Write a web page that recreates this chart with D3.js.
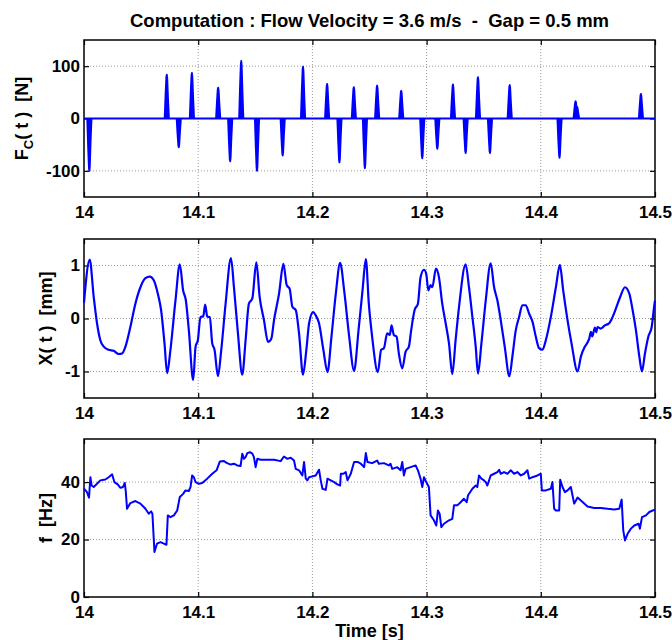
<!DOCTYPE html>
<html>
<head>
<meta charset="utf-8">
<script src="https://cdn.jsdelivr.net/npm/d3@7"></script>
<style>
  body { margin: 0; background: #fff; }
  svg { display: block; font-family: "Liberation Sans", Arial, sans-serif; }
</style>
</head>
<body>
<div id="chart"></div>
<script>
// ---- data ----

const timeTicks = [14, 14.1, 14.2, 14.3, 14.4, 14.5];
const timeTickLabels = ["14", "14.1", "14.2", "14.3", "14.4", "14.5"];

// contact force spikes: time [s] and peak force [N]
const spikeTimes = [14.0047, 14.0725, 14.083, 14.0945, 14.1175, 14.128, 14.1377,
  14.1515, 14.174, 14.1918, 14.2129, 14.2237, 14.2363, 14.246, 14.2567, 14.2778,
  14.2962, 14.3094, 14.3231, 14.3342, 14.345, 14.3555, 14.3728, 14.4164, 14.4305,
  14.4318, 14.4877];
const spikeForces = [-100, 84, -55, 87, 59, -82, 110, -100, -71, 99, 66, -84, 60, -95,
  63, 53, -76, -58, 65, -66, 79, -66, 64, -75, 33, 22, 47];
// shape of one spike: time offset [s], fraction of the peak
const spikeOffsets = [-0.0019, -0.0011, -0.0004, 0, 0.0004, 0.0011, 0.0019];
const spikeShape = [0, 0.55, 0.95, 1, 0.92, 0.45, 0];
const forceTicks = [-100, 0, 100];

// displacement X(t) [mm]
const dispPoints = [
  [14.0, 0.3], [14.0050, 1.11], [14.0085, 0.41], [14.0114, -0.09], [14.0143, -0.41],
  [14.0173, -0.53], [14.0216, -0.59], [14.0260, -0.61], [14.0304, -0.67], [14.0333, -0.66],
  [14.0363, -0.53], [14.0406, -0.16], [14.0450, 0.28], [14.0494, 0.59], [14.0538, 0.76],
  [14.0576, 0.79], [14.0611, 0.72], [14.0646, 0.47], [14.0675, 0.16], [14.0705, -0.47],
  [14.0728, -1.03], [14.0757, -0.59], [14.0801, 0.34], [14.0839, 1.02], [14.0868, 0.53],
  [14.0892, 0.34], [14.0918, -0.22], [14.0956, -1.16], [14.0977, -0.53], [14.0997, -0.41],
  [14.1020, 0.03], [14.1044, 0.04], [14.1061, 0.26], [14.1079, 0.04], [14.1102, 0.02],
  [14.1123, -0.47], [14.1143, -0.59], [14.1173, -1.09], [14.1202, -0.59], [14.1240, 0.28],
  [14.1287, 1.14], [14.1313, 0.59], [14.1348, -0.28], [14.1386, -1.06], [14.1415, -0.41],
  [14.1444, 0.28], [14.1474, 0.38], [14.1509, 1.06], [14.1538, 0.41], [14.1576, -0.03],
  [14.1611, -0.44], [14.1640, -0.38], [14.1664, -0.03], [14.1708, 0.47], [14.1746, 1.03],
  [14.1775, 0.63], [14.1801, 0.56], [14.1825, 0.22], [14.1854, 0.16], [14.1883, -0.28],
  [14.1918, -1.06], [14.1947, -0.59], [14.1971, -0.09], [14.2006, 0.12], [14.2029, 0.06],
  [14.2058, -0.09], [14.2096, -0.59], [14.2132, -1.01], [14.2167, -0.34], [14.2205, 0.47],
  [14.2243, 1.05], [14.2278, 0.53], [14.2322, -0.34], [14.2365, -0.99], [14.2404, -0.22],
  [14.2439, 0.53], [14.2468, 1.12], [14.2494, 0.28], [14.2523, -0.34], [14.2573, -1.01],
  [14.2602, -0.59], [14.2626, -0.56], [14.2655, -0.28], [14.2678, -0.31], [14.2693, -0.13],
  [14.2713, -0.31], [14.2737, -0.34], [14.2757, -0.66], [14.2787, -0.94], [14.2816, -0.63],
  [14.2845, -0.53], [14.2865, -0.22], [14.2895, 0.16], [14.2924, 0.28], [14.2947, 0.78],
  [14.2977, 0.92], [14.2997, 0.84], [14.3015, 0.53], [14.3035, 0.63], [14.3050, 0.59],
  [14.3082, 0.94], [14.3108, 0.78], [14.3137, 0.28], [14.3167, -0.09], [14.3196, -0.47],
  [14.3225, -1.05], [14.3254, -0.41], [14.3284, 0.22], [14.3342, 1.02], [14.3371, 0.59],
  [14.3401, 0.03], [14.3430, -0.53], [14.3450, -1.04], [14.3480, -0.47], [14.3518, 0.34],
  [14.3561, 1.04], [14.3591, 0.59], [14.3620, 0.34], [14.3649, -0.03], [14.3684, -0.53],
  [14.3725, -1.09], [14.3751, -0.72], [14.3781, -0.22], [14.3810, 0.03], [14.3839, 0.25],
  [14.3868, 0.25], [14.3898, 0.09], [14.3927, -0.06], [14.3956, -0.34], [14.3985, -0.56],
  [14.4015, -0.59], [14.4044, -0.41], [14.4088, 0.03], [14.4132, 0.59], [14.4167, 1.01],
  [14.4196, 0.53], [14.4234, -0.03], [14.4269, -0.47], [14.4322, -1.0], [14.4351, -0.72],
  [14.4386, -0.53], [14.4410, -0.45], [14.4424, -0.38], [14.4439, -0.25], [14.4450, -0.34],
  [14.4474, -0.17], [14.4485, -0.26], [14.4497, -0.16], [14.4526, -0.19], [14.4561, -0.13],
  [14.4599, -0.09], [14.4629, 0.03], [14.4658, 0.19], [14.4696, 0.41], [14.4737, 0.59],
  [14.4775, 0.47], [14.4804, 0.16], [14.4833, -0.22], [14.4863, -0.72], [14.4886, -1.0],
  [14.4912, -0.66], [14.4942, -0.34], [14.4971, -0.16], [14.4994, 0.25], [14.5, 0.34]
];
const dispTicks = [-1, 0, 1];

// frequency f [Hz]
const freqPoints = [
  [14.0, 37.7], [14.0026, 36.5], [14.0044, 34.6], [14.0056, 41.7], [14.0067, 38.8],
  [14.0085, 38.3], [14.0114, 39.4], [14.0143, 40.6], [14.0187, 40.9], [14.0216, 41.7],
  [14.0246, 42.7], [14.0266, 40.0], [14.0295, 39.2], [14.0319, 38.0], [14.0342, 38.3],
  [14.0357, 39.7], [14.0365, 37.1], [14.0377, 30.7], [14.0406, 32.7], [14.0450, 33.4],
  [14.0494, 32.5], [14.0538, 30.7], [14.0567, 29.0], [14.0588, 29.8], [14.0599, 29.0],
  [14.0617, 15.7], [14.0640, 18.6], [14.0670, 19.1], [14.0699, 18.6], [14.0722, 18.2],
  [14.0734, 28.4], [14.0757, 27.8], [14.0787, 28.4], [14.0816, 30.1], [14.0839, 34.8],
  [14.0868, 35.9], [14.0889, 37.1], [14.0918, 36.9], [14.0933, 38.3], [14.0947, 42.3],
  [14.0962, 41.7], [14.0977, 40.0], [14.1006, 39.4], [14.1035, 39.7], [14.1079, 41.2],
  [14.1123, 42.9], [14.1161, 44.1], [14.1190, 47.2], [14.1225, 47.3], [14.1254, 46.6],
  [14.1284, 46.1], [14.1313, 46.4], [14.1342, 45.8], [14.1371, 45.6], [14.1386, 49.9],
  [14.1401, 48.1], [14.1415, 48.7], [14.1430, 50.1], [14.1453, 50.4], [14.1474, 49.9],
  [14.1488, 48.7], [14.1503, 45.2], [14.1518, 48.1], [14.1547, 47.8], [14.1605, 47.8],
  [14.1664, 47.8], [14.1722, 47.3], [14.1751, 48.9], [14.1781, 48.1], [14.1810, 48.5],
  [14.1839, 47.5], [14.1854, 44.6], [14.1883, 44.1], [14.1912, 42.3], [14.1927, 47.0],
  [14.1942, 41.2], [14.1956, 40.6], [14.1971, 41.7], [14.2000, 42.0], [14.2029, 42.3],
  [14.2058, 44.3], [14.2073, 40.6], [14.2088, 37.7], [14.2117, 37.3], [14.2132, 41.2],
  [14.2161, 40.6], [14.2190, 40.0], [14.2219, 39.2], [14.2243, 38.8], [14.2249, 42.9],
  [14.2272, 42.9], [14.2292, 43.5], [14.2307, 40.6], [14.2336, 42.9], [14.2365, 47.0],
  [14.2395, 47.0], [14.2424, 46.4], [14.2453, 45.2], [14.2468, 50.1], [14.2482, 47.0],
  [14.2523, 46.6], [14.2567, 47.5], [14.2582, 46.4], [14.2626, 46.6], [14.2670, 45.8],
  [14.2684, 46.4], [14.2699, 44.6], [14.2743, 45.2], [14.2772, 44.1], [14.2787, 47.0],
  [14.2801, 42.3], [14.2816, 44.6], [14.2860, 45.2], [14.2904, 45.8], [14.2924, 44.1],
  [14.2947, 41.2], [14.2962, 38.3], [14.2977, 41.7], [14.2997, 40.0], [14.3020, 38.3],
  [14.3035, 28.4], [14.3064, 26.7], [14.3085, 24.9], [14.3099, 30.1], [14.3114, 29.0],
  [14.3129, 24.3], [14.3152, 25.5], [14.3196, 26.7], [14.3225, 27.2], [14.3240, 31.9],
  [14.3269, 31.9], [14.3298, 33.0], [14.3327, 34.2], [14.3351, 33.0], [14.3363, 35.4],
  [14.3401, 37.7], [14.3430, 38.8], [14.3444, 38.3], [14.3459, 42.3], [14.3480, 41.2],
  [14.3503, 40.6], [14.3518, 40.0], [14.3532, 38.8], [14.3561, 42.3], [14.3591, 42.9],
  [14.3620, 43.5], [14.3635, 44.3], [14.3649, 42.9], [14.3678, 43.5], [14.3708, 42.9],
  [14.3737, 44.1], [14.3766, 42.9], [14.3795, 43.5], [14.3825, 42.3], [14.3854, 42.9],
  [14.3883, 44.1], [14.3898, 41.2], [14.3927, 41.7], [14.3971, 42.3], [14.4000, 42.9],
  [14.4009, 37.1], [14.4044, 37.1], [14.4088, 37.7], [14.4102, 40.0], [14.4117, 30.7],
  [14.4132, 30.1], [14.4161, 30.1], [14.4170, 40.8], [14.4190, 38.3], [14.4211, 36.5],
  [14.4234, 37.1], [14.4263, 38.3], [14.4292, 32.5], [14.4322, 34.6], [14.4351, 33.6],
  [14.4409, 31.5], [14.4468, 31.0], [14.4526, 31.0], [14.4585, 30.7], [14.4643, 30.5],
  [14.4687, 30.7], [14.4708, 33.9], [14.4722, 23.2], [14.4737, 19.7], [14.4760, 22.0],
  [14.4789, 23.8], [14.4819, 24.9], [14.4857, 25.5], [14.4868, 23.8], [14.4886, 27.8],
  [14.4921, 28.4], [14.4950, 29.6], [14.4980, 30.1], [14.5, 30.4]
];
const freqTicks = [0, 20, 40];

const titleText = "Computation : Flow Velocity = 3.6 m/s  -  Gap = 0.5 mm";

// ---- layout ----
const width = 672;
const height = 640;
const left = 84;
const right = 655;
const lineColor = "#0000ff";
const tickFont = 17;
const labelFont = 18;

const svg = d3.select("#chart").append("svg")
  .attr("width", width)
  .attr("height", height);

const x = d3.scaleLinear().domain([14, 14.5]).range([left, right]);

/**
 * drawPanel
 *
 * Draws one MATLAB-style axes box: grid, inward ticks on all sides,
 * tick labels and the rotated y label. Returns the y scale and group.
 */
const drawPanel = function (top, bottom, yDomain, yTicks, labelX, yLabel) {
  const y = d3.scaleLinear().domain(yDomain).range([bottom, top]);
  const g = svg.append("g");

  // dotted grid
  const grid = g.append("g")
    .attr("stroke", "#9a9a9a")
    .attr("stroke-width", 1)
    .attr("stroke-dasharray", "1,2");

  grid.selectAll("line.gx")
    .data(timeTicks.slice(1, -1))
    .join("line")
    .attr("class", "gx")
    .attr("x1", d => x(d)).attr("x2", d => x(d))
    .attr("y1", top).attr("y2", bottom);

  grid.selectAll("line.gy")
    .data(yTicks.filter(d => y(d) > top + 1 && y(d) < bottom - 1))
    .join("line")
    .attr("class", "gy")
    .attr("x1", left).attr("x2", right)
    .attr("y1", d => y(d)).attr("y2", d => y(d));

  // axes through d3, ticks pointing inward
  const bottomAxis = d3.axisBottom(x).tickValues(timeTicks)
    .tickSize(-5).tickPadding(9)
    .tickFormat((d, i) => timeTickLabels[i]);
  const topAxis = d3.axisTop(x).tickValues(timeTicks).tickSize(-5).tickFormat("");
  const leftAxis = d3.axisLeft(y).tickValues(yTicks).tickSize(-5).tickPadding(4)
    .tickFormat(d => String(d));
  const rightAxis = d3.axisRight(y).tickValues(yTicks).tickSize(-5).tickFormat("");

  const styleAxis = sel => {
    sel.select(".domain").remove();
    sel.selectAll(".tick line").attr("stroke", "#000").attr("stroke-width", 1.2);
    sel.selectAll("text")
      .attr("fill", "#000")
      .attr("font-size", tickFont)
      .attr("font-weight", "bold")
      .attr("font-family", "Liberation Sans, Arial, sans-serif");
  };

  g.append("g").attr("transform", `translate(0,${bottom})`).call(bottomAxis).call(styleAxis);
  g.append("g").attr("transform", `translate(0,${top})`).call(topAxis).call(styleAxis);
  g.append("g").attr("transform", `translate(${left},0)`).call(leftAxis).call(styleAxis);
  g.append("g").attr("transform", `translate(${right},0)`).call(rightAxis).call(styleAxis);

  // frame
  g.append("rect")
    .attr("x", left).attr("y", top)
    .attr("width", right - left).attr("height", bottom - top)
    .attr("fill", "none")
    .attr("stroke", "#000")
    .attr("stroke-width", 1.5);

  // y label, sits next to the widest tick label as in MATLAB
  const label = g.append("text")
    .attr("transform", `translate(${labelX},${(top + bottom) / 2}) rotate(-90)`)
    .attr("text-anchor", "middle")
    .attr("font-size", labelFont)
    .attr("font-weight", "bold")
    .attr("fill", "#000")
    .attr("xml:space", "preserve")
    .style("white-space", "pre");
  yLabel(label);

  return { y: y, g: g };
};

const line = y => d3.line().x(d => x(d[0])).y(d => y(d[1]));

// ---- top panel: contact force ----
const p1 = drawPanel(40, 197, [-150, 150], forceTicks, 28, label => {
  label.append("tspan").text("F");
  label.append("tspan").attr("font-size", 13).attr("dy", 5).text("C");
  label.append("tspan").attr("dy", -5).text("( t )  [N]");
});

p1.g.append("path")
  .datum([[14, 0], [14.5, 0]])
  .attr("fill", "none")
  .attr("stroke", lineColor)
  .attr("stroke-width", 2)
  .attr("d", line(p1.y));

p1.g.append("g")
  .selectAll("path")
  .data(spikeTimes.map((t, i) => spikeOffsets.map((o, k) => [t + o, spikeForces[i] * spikeShape[k]])))
  .join("path")
  .attr("fill", lineColor)
  .attr("stroke", lineColor)
  .attr("stroke-width", 1.8)
  .attr("stroke-linejoin", "round")
  .attr("d", line(p1.y));

// ---- middle panel: displacement ----
const p2 = drawPanel(239, 398, [-1.5, 1.5], dispTicks, 52, label => {
  label.text("X( t )  [mm]");
});

p2.g.append("path")
  .datum(dispPoints)
  .attr("fill", "none")
  .attr("stroke", lineColor)
  .attr("stroke-width", 2.2)
  .attr("stroke-linejoin", "round")
  .attr("d", d3.line().x(d => x(d[0])).y(d => p2.y(d[1])).curve(d3.curveMonotoneX));

// ---- bottom panel: frequency ----
const p3 = drawPanel(439, 597, [0, 55], freqTicks, 52, label => {
  label.text("f  [Hz]");
});

p3.g.append("path")
  .datum(freqPoints)
  .attr("fill", "none")
  .attr("stroke", lineColor)
  .attr("stroke-width", 2)
  .attr("stroke-linejoin", "round")
  .attr("d", line(p3.y));

// ---- title and x label ----
svg.append("text")
  .attr("x", (left + right) / 2)
  .attr("y", 27)
  .attr("text-anchor", "middle")
  .attr("font-size", 18.5)
  .attr("font-weight", "bold")
  .attr("xml:space", "preserve")
  .style("white-space", "pre")
  .text(titleText);

svg.append("text")
  .attr("x", (left + right) / 2)
  .attr("y", 637)
  .attr("text-anchor", "middle")
  .attr("font-size", labelFont)
  .attr("font-weight", "bold")
  .text("Time [s]");
</script>
</body>
</html>
